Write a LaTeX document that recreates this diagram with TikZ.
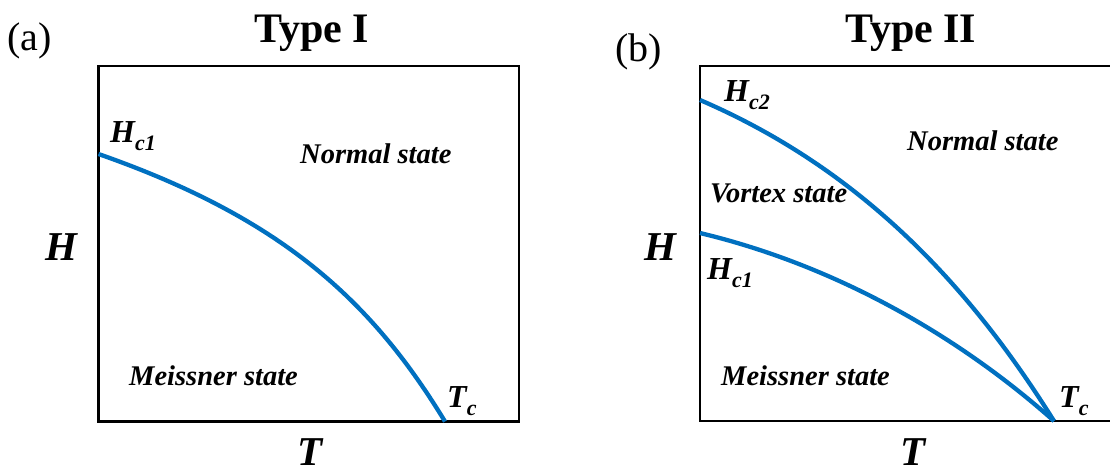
\documentclass[tikz,border=0pt]{standalone}
\usepackage{fontspec}
\setmainfont{Liberation Serif}
\definecolor{curveblue}{RGB}{0,112,192}
\newcommand\sublab[2]{#1\raisebox{-8pt}{\fontsize{22}{22}\selectfont #2}}
\begin{document}
\begin{tikzpicture}[x=1pt,y=-1pt,
 boxline/.style={line width=2.8pt, black},
 curve/.style={line width=4.3pt, curveblue},
 statelbl/.style={anchor=base west, inner sep=0pt, font=\fontsize{28.5}{30}\selectfont\bfseries\itshape},
 critlbl/.style={anchor=base west, inner sep=0pt, font=\fontsize{32}{34}\selectfont\bfseries\itshape},
 axislbl/.style={anchor=base west, inner sep=0pt, font=\fontsize{41}{44}\selectfont\bfseries\itshape},
 titlelbl/.style={anchor=base west, inner sep=0pt, font=\fontsize{42}{46}\selectfont\bfseries},
 panellbl/.style={anchor=base west, inner sep=0pt, font=\fontsize{40}{44}\selectfont}]
\useasboundingbox (0,0) rectangle (1110,475);
\clip (0,0) rectangle (1110,475);
% ---------- panel (a) ----------
\coordinate (aTL) at (98.5,66);
\coordinate (aBR) at (519,421.5);
\draw[boxline] (aTL) rectangle (aBR);
\coordinate (aH) at (98.5,154);
\coordinate (aT) at (445,421.5);
\draw[curve] (aH) .. controls (278.5,217) and (369.6,297.5) .. (aT);
\node[panellbl] (alab) at (7,50) {(a)};
\node[titlelbl] (atitle) at (254,42) {Type I};
\node[critlbl] (ahc1) at (110,142) {\sublab{H}{c1}};
\node[statelbl] (anormal) at (300,163) {Normal state};
\node[axislbl] (aHax) at (45,260) {H};
\node[statelbl] (ameiss) at (129,385) {Meissner state};
\node[critlbl] (atc) at (447,407) {\sublab{T}{c}};
\node[axislbl] (aTax) at (297,465) {T};
% ---------- panel (b) ----------
\coordinate (bTL) at (700,66);
\coordinate (bBR) at (1125,421);
\draw[boxline] (bTL) rectangle (bBR);
\coordinate (bH2) at (700,100);
\coordinate (bH1) at (700,233);
\coordinate (bT) at (1054,421);
\draw[curve] (bH2) .. controls (865,171) and (972,290) .. (bT);
\draw[curve] (bH1) .. controls (850,269) and (971.5,347.4) .. (bT);
\node[panellbl] (blab) at (615,61) {(b)};
\node[titlelbl] (btitle) at (845,42) {Type II};
\node[critlbl] (bhc2) at (724,101) {\sublab{H}{c2}};
\node[statelbl] (bvortex) at (710,202) {Vortex state};
\node[statelbl] (bnormal) at (907,150) {Normal state};
\node[axislbl] (bHax) at (644,260) {H};
\node[critlbl] (bhc1) at (707,279) {\sublab{H}{c1}};
\node[statelbl] (bmeiss) at (721,385) {Meissner state};
\node[critlbl] (btc) at (1059,407) {\sublab{T}{c}};
\node[axislbl] (bTax) at (900,465) {T};
\end{tikzpicture}
\end{document}
